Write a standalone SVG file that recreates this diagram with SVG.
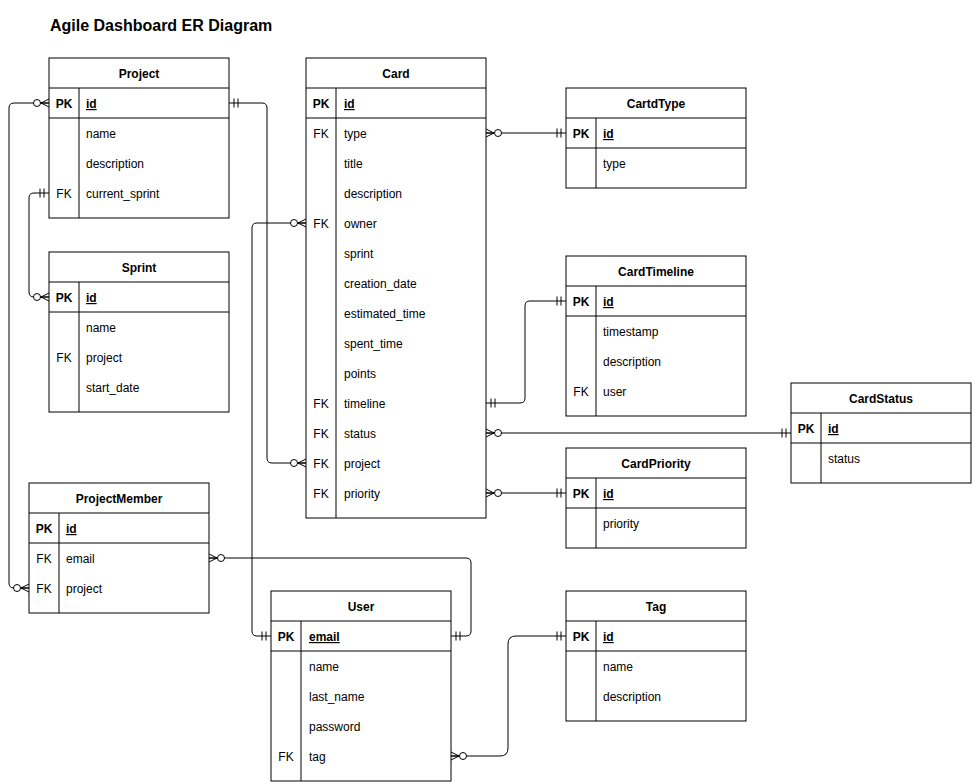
<svg xmlns="http://www.w3.org/2000/svg" width="972" height="782" viewBox="0 0 972 782">
<style>
.box{fill:#fff;stroke:#000;stroke-width:1}
.ln{stroke:#000;stroke-width:1;fill:none}
text{font-family:"Liberation Sans",Arial,sans-serif;font-size:12px;fill:#000}
.h{font-weight:bold;text-anchor:middle}
.k{text-anchor:middle}
.pk{font-weight:bold;text-anchor:middle}
.id{font-weight:bold;text-decoration:underline}
.title{font-size:16px;font-weight:bold}
</style>
<defs>
<marker id="one" viewBox="-20 -10 20 20" markerWidth="20" markerHeight="20" refX="0" refY="0" orient="auto-start-reverse" markerUnits="userSpaceOnUse" overflow="visible">
<path d="M-5,-4.5 V4.5 M-9,-4.5 V4.5" stroke="#000" stroke-width="1" fill="none"/>
</marker>
<marker id="many" viewBox="-20 -10 20 20" markerWidth="20" markerHeight="20" refX="0" refY="0" orient="auto-start-reverse" markerUnits="userSpaceOnUse" overflow="visible">
<path d="M0,-4 L-8,0 L0,4 M0,0 H-8" stroke="#000" stroke-width="1" fill="none"/>
<circle cx="-12" cy="0" r="3.5" fill="#fff" stroke="#000" stroke-width="1"/>
</marker>
</defs>
<rect width="972" height="782" fill="#fff"/>
<text x="50" y="31" class="title">Agile Dashboard ER Diagram</text>

<g id="connectors">
<path class="ln" d="M49,103 L14,103 Q9,103 9,108 L9,583 Q9,588 14,588 L29,588" marker-start="url(#many)" marker-end="url(#many)"/>
<path class="ln" d="M49,193 L34,193 Q29,193 29,198 L29,292 Q29,297 34,297 L49,297" marker-start="url(#one)" marker-end="url(#many)"/>
<path class="ln" d="M229,103 L262,103 Q267,103 267,108 L267,458 Q267,463 272,463 L306,463" marker-start="url(#one)" marker-end="url(#many)"/>
<path class="ln" d="M306,223 L257,223 Q252,223 252,228 L252,631 Q252,636 257,636 L271,636" marker-start="url(#many)" marker-end="url(#one)"/>
<path class="ln" d="M486,133 L566,133" marker-start="url(#many)" marker-end="url(#one)"/>
<path class="ln" d="M486,403 L520,403 Q525,403 525,398 L525,306 Q525,301 530,301 L566,301" marker-start="url(#one)" marker-end="url(#one)"/>
<path class="ln" d="M486,433 L791,433" marker-start="url(#many)" marker-end="url(#one)"/>
<path class="ln" d="M486,493 L566,493" marker-start="url(#many)" marker-end="url(#one)"/>
<path class="ln" d="M209,558 L466,558 Q471,558 471,563 L471,631 Q471,636 466,636 L451,636" marker-start="url(#many)" marker-end="url(#one)"/>
<path class="ln" d="M451,756 L500,756 Q508,756 508,748 L508,644 Q508,636 516,636 L566,636" marker-start="url(#many)" marker-end="url(#one)"/>
</g>

<g id="Project">
<rect class="box" x="49" y="58" width="180" height="160"/>
<path class="ln" d="M49,88 H229 M49,118 H229 M79,88 V218"/>
<text x="139" y="78" class="h">Project</text>
<text x="64" y="108" class="pk">PK</text><text x="86" y="108" class="id">id</text>
<text x="86" y="138">name</text>
<text x="86" y="168">description</text>
<text x="64" y="198" class="k">FK</text><text x="86" y="198">current_sprint</text>
</g>

<g id="Sprint">
<rect class="box" x="49" y="252" width="180" height="160"/>
<path class="ln" d="M49,282 H229 M49,312 H229 M79,282 V412"/>
<text x="139" y="272" class="h">Sprint</text>
<text x="64" y="302" class="pk">PK</text><text x="86" y="302" class="id">id</text>
<text x="86" y="332">name</text>
<text x="64" y="362" class="k">FK</text><text x="86" y="362">project</text>
<text x="86" y="392">start_date</text>
</g>

<g id="ProjectMember">
<rect class="box" x="29" y="483" width="180" height="130"/>
<path class="ln" d="M29,513 H209 M29,543 H209 M59,513 V613"/>
<text x="119" y="503" class="h">ProjectMember</text>
<text x="44" y="533" class="pk">PK</text><text x="66" y="533" class="id">id</text>
<text x="44" y="563" class="k">FK</text><text x="66" y="563">email</text>
<text x="44" y="593" class="k">FK</text><text x="66" y="593">project</text>
</g>

<g id="Card">
<rect class="box" x="306" y="58" width="180" height="460"/>
<path class="ln" d="M306,88 H486 M306,118 H486 M336,88 V518"/>
<text x="396" y="78" class="h">Card</text>
<text x="321" y="108" class="pk">PK</text><text x="344" y="108" class="id">id</text>
<text x="321" y="138" class="k">FK</text><text x="344" y="138">type</text>
<text x="344" y="168">title</text>
<text x="344" y="198">description</text>
<text x="321" y="228" class="k">FK</text><text x="344" y="228">owner</text>
<text x="344" y="258">sprint</text>
<text x="344" y="288">creation_date</text>
<text x="344" y="318">estimated_time</text>
<text x="344" y="348">spent_time</text>
<text x="344" y="378">points</text>
<text x="321" y="408" class="k">FK</text><text x="344" y="408">timeline</text>
<text x="321" y="438" class="k">FK</text><text x="344" y="438">status</text>
<text x="321" y="468" class="k">FK</text><text x="344" y="468">project</text>
<text x="321" y="498" class="k">FK</text><text x="344" y="498">priority</text>
</g>

<g id="CardtType">
<rect class="box" x="566" y="88" width="180" height="100"/>
<path class="ln" d="M566,118 H746 M566,148 H746 M596,118 V188"/>
<text x="656" y="108" class="h">CartdType</text>
<text x="581" y="138" class="pk">PK</text><text x="603" y="138" class="id">id</text>
<text x="603" y="168">type</text>
</g>

<g id="CardTimeline">
<rect class="box" x="566" y="256" width="180" height="160"/>
<path class="ln" d="M566,286 H746 M566,316 H746 M596,286 V416"/>
<text x="656" y="276" class="h">CardTimeline</text>
<text x="581" y="306" class="pk">PK</text><text x="603" y="306" class="id">id</text>
<text x="603" y="336">timestamp</text>
<text x="603" y="366">description</text>
<text x="581" y="396" class="k">FK</text><text x="603" y="396">user</text>
</g>

<g id="CardStatus">
<rect class="box" x="791" y="383" width="180" height="100"/>
<path class="ln" d="M791,413 H971 M791,443 H971 M821,413 V483"/>
<text x="881" y="403" class="h">CardStatus</text>
<text x="806" y="433" class="pk">PK</text><text x="828" y="433" class="id">id</text>
<text x="828" y="463">status</text>
</g>

<g id="CardPriority">
<rect class="box" x="566" y="448" width="180" height="100"/>
<path class="ln" d="M566,478 H746 M566,508 H746 M596,478 V548"/>
<text x="656" y="468" class="h">CardPriority</text>
<text x="581" y="498" class="pk">PK</text><text x="603" y="498" class="id">id</text>
<text x="603" y="528">priority</text>
</g>

<g id="User">
<rect class="box" x="271" y="591" width="180" height="190"/>
<path class="ln" d="M271,621 H451 M271,651 H451 M301,621 V781"/>
<text x="361" y="611" class="h">User</text>
<text x="286" y="641" class="pk">PK</text><text x="309" y="641" class="id">email</text>
<text x="309" y="671">name</text>
<text x="309" y="701">last_name</text>
<text x="309" y="731">password</text>
<text x="286" y="761" class="k">FK</text><text x="309" y="761">tag</text>
</g>

<g id="Tag">
<rect class="box" x="566" y="591" width="180" height="130"/>
<path class="ln" d="M566,621 H746 M566,651 H746 M596,621 V721"/>
<text x="656" y="611" class="h">Tag</text>
<text x="581" y="641" class="pk">PK</text><text x="603" y="641" class="id">id</text>
<text x="603" y="671">name</text>
<text x="603" y="701">description</text>
</g>
</svg>
